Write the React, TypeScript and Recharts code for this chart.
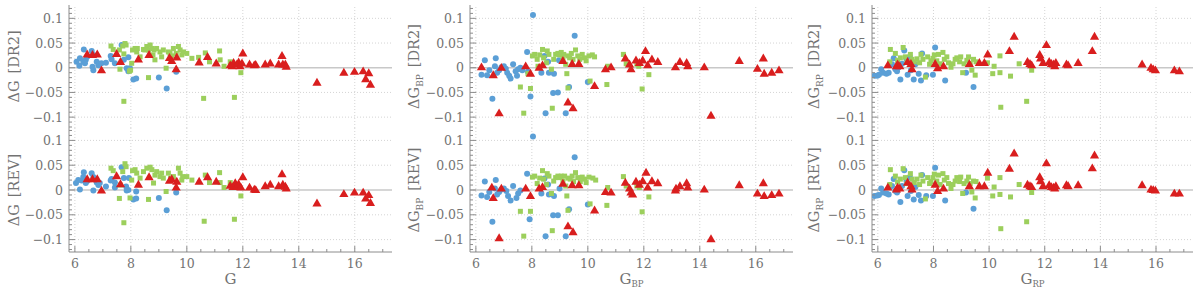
import React from "react";
import { ScatterChart, Scatter, XAxis, YAxis, ReferenceLine } from "recharts";

type Pt = [number, number];

// ---- G column ----
const gDr2Blue: Pt[] = [
  [6.06, 0.012], [6.18, 0.019], [6.16, 0.004], [6.3, 0.012], [6.32, 0.037], [6.39, 0.016], [6.36, 0.009],
  [6.44, 0.022], [6.6, 0.034], [6.66, 0.026], [6.63, 0.002], [6.66, -0.005], [6.78, 0.012], [6.84, 0.005],
  [6.95, 0.009], [7.11, 0.01], [7.28, 0.024], [7.31, 0.017], [7.43, 0.009], [7.67, 0.046], [7.75, 0.016],
  [7.85, -0.001], [7.91, -0.007], [7.97, -0.001], [8.09, -0.024], [8.19, -0.022], [7.91, 0.021],
  [9.0, -0.02], [9.28, -0.042], [9.62, -0.008],
];
const gDr2Green: Pt[] = [
  [7.29, 0.044], [7.37, 0.037], [7.59, 0.036], [7.71, 0.044], [7.79, 0.049], [7.83, 0.046], [7.75, 0.028],
  [7.61, -0.003], [7.75, -0.068], [7.99, -0.005], [8.03, 0.009], [8.06, 0.036], [8.15, 0.039], [8.21, 0.032],
  [8.23, 0.039], [8.33, 0.022], [8.45, 0.037], [8.5, 0.036], [8.57, 0.043], [8.63, 0.036], [8.69, 0.046],
  [8.75, 0.039], [8.79, 0.026], [8.83, 0.036], [8.86, 0.016], [8.92, 0.039], [9.04, 0.032], [9.1, 0.022],
  [9.16, 0.036], [9.26, -0.001], [9.34, 0.032], [9.4, 0.029], [9.46, 0.024], [9.52, 0.039], [9.62, 0.029],
  [9.7, 0.043], [9.76, 0.036], [9.82, 0.026], [9.88, 0.032], [10.0, 0.029], [10.18, 0.019], [10.42, 0.021],
  [10.6, -0.062], [10.66, 0.03], [10.81, 0.012], [11.17, 0.034], [11.19, 0.016], [11.33, 0.003],
  [11.55, 0.012], [11.7, -0.06], [11.93, -0.01], [8.63, -0.02], [7.95, -0.007],
];
const gDr2Red: Pt[] = [
  [6.44, 0.027], [6.63, 0.026], [6.8, 0.027], [6.95, -0.005], [7.49, 0.028], [7.63, 0.012], [8.27, 0.017],
  [8.65, 0.026], [9.38, 0.02], [9.46, 0.014], [9.62, -0.003], [9.64, 0.021], [10.44, 0.011], [10.74, 0.022],
  [11.05, 0.009], [11.55, 0.005], [11.62, 0.003], [11.67, 0.01], [11.79, 0.007], [11.85, 0.011],
  [11.9, 0.003], [11.97, 0.009], [12.0, 0.029], [12.24, 0.007], [12.41, 0.005], [12.46, 0.006],
  [12.8, 0.007], [12.98, 0.009], [13.28, 0.007], [13.4, 0.024], [13.43, 0.007], [13.52, 0.007],
  [13.55, 0.002], [14.65, -0.03], [15.61, -0.01], [15.99, -0.008], [16.3, -0.007], [16.39, -0.023],
  [16.5, -0.011], [16.56, -0.034],
];
const gRevBlue: Pt[] = [
  [6.04, 0.014], [6.12, 0.02], [6.18, 0.001], [6.24, 0.019], [6.3, 0.026], [6.32, 0.036], [6.39, 0.014],
  [6.44, 0.018], [6.6, 0.034], [6.66, 0.026], [6.66, -0.001], [6.78, 0.015], [6.84, 0.01], [6.89, 0.014],
  [7.11, 0.007], [7.28, 0.019], [7.31, 0.022], [7.43, 0.005], [7.43, 0.015], [7.67, 0.046], [7.75, 0.024],
  [7.83, 0.007], [7.85, -0.001], [7.91, 0.0], [7.93, 0.024], [8.09, -0.019], [8.19, -0.017], [8.19, -0.003],
  [9.0, -0.016], [9.28, -0.041], [9.62, -0.005],
];
const gRevGreen: Pt[] = [
  [7.29, 0.044], [7.37, 0.039], [7.59, -0.017], [7.71, 0.037], [7.79, 0.053], [7.83, 0.047], [7.75, -0.066],
  [7.63, 0.01], [7.97, -0.016], [8.03, 0.02], [8.06, 0.039], [8.15, 0.041], [8.21, 0.034], [8.33, 0.024],
  [8.45, 0.037], [8.57, 0.044], [8.63, -0.019], [8.69, 0.046], [8.75, 0.041], [8.81, 0.014], [8.86, 0.03],
  [8.92, 0.037], [9.1, 0.034], [9.16, 0.024], [9.26, -0.003], [9.34, 0.034], [9.42, 0.024], [9.52, 0.027],
  [9.7, 0.044], [9.76, 0.034], [9.85, 0.027], [10.0, 0.027], [10.18, 0.02], [10.62, -0.063], [10.66, 0.03],
  [10.81, 0.015], [11.17, 0.035], [11.19, 0.015], [11.33, 0.005], [11.55, 0.015], [11.7, -0.059],
  [11.93, -0.012], [9.04, 0.027], [9.82, 0.02],
];
const gRevRed: Pt[] = [
  [6.44, 0.022], [6.63, 0.022], [6.8, 0.022], [6.95, -0.001], [7.49, 0.028], [7.63, 0.012], [8.27, 0.011],
  [8.65, 0.026], [9.38, 0.019], [9.46, 0.022], [9.62, 0.005], [9.64, 0.017], [10.44, 0.017], [10.74, 0.026],
  [11.05, 0.017], [11.55, 0.009], [11.65, 0.006], [11.73, 0.014], [11.79, 0.007], [11.85, 0.012],
  [11.93, 0.005], [12.0, 0.026], [12.24, 0.005], [12.41, 0.001], [12.46, 0.0], [12.8, 0.008],
  [12.98, 0.011], [13.28, 0.008], [13.4, 0.032], [13.43, 0.011], [13.52, 0.007], [13.55, 0.003],
  [14.65, -0.027], [15.61, -0.008], [15.99, -0.005], [16.3, -0.005], [16.39, -0.017], [16.5, -0.01],
  [16.56, -0.026],
];

// ---- G_BP column ----
const bpDr2Blue: Pt[] = [
  [6.2, -0.014], [6.32, 0.015], [6.4, -0.015], [6.48, -0.005], [6.59, -0.063], [6.68, 0.003], [6.71, 0.019],
  [6.76, -0.01], [6.83, -0.005], [6.91, 0.001], [7.0, 0.003], [7.07, -0.002], [7.12, -0.01], [7.19, -0.016],
  [7.24, -0.022], [7.33, 0.007], [7.42, -0.007], [7.47, -0.016], [7.51, -0.003], [7.59, 0.0], [7.66, -0.005],
  [7.83, 0.032], [7.86, -0.008], [7.95, -0.058], [8.04, 0.107], [8.34, -0.01], [8.45, 0.024], [8.49, -0.092],
  [8.58, 0.012], [8.61, -0.01], [8.76, -0.051], [8.79, -0.012], [8.93, -0.05], [8.97, 0.015], [9.21, -0.092],
  [9.33, -0.039], [9.53, 0.065], [10.0, -0.029],
];
const bpDr2Green: Pt[] = [
  [7.59, -0.039], [7.71, -0.092], [7.86, -0.012], [7.95, -0.042], [8.02, 0.024], [8.1, 0.027], [8.19, 0.017],
  [8.22, 0.003], [8.28, 0.026], [8.38, 0.037], [8.42, 0.02], [8.52, 0.01], [8.55, 0.034], [8.61, 0.027],
  [8.7, -0.003], [8.73, -0.082], [8.78, 0.017], [8.85, 0.027], [8.93, 0.029], [8.99, 0.026], [9.05, 0.031],
  [9.11, 0.017], [9.14, 0.027], [9.21, 0.007], [9.25, -0.012], [9.29, -0.041], [9.29, 0.024], [9.35, 0.02],
  [9.41, 0.029], [9.47, 0.017], [9.56, 0.036], [9.64, 0.024], [9.71, 0.017], [9.8, 0.027], [9.88, 0.02],
  [9.94, 0.014], [10.04, 0.024], [10.08, -0.027], [10.16, 0.026], [10.24, 0.022], [10.68, -0.034],
  [10.71, 0.003], [11.27, 0.027], [11.37, 0.008], [11.75, 0.007], [11.82, 0.003], [11.94, -0.043],
  [12.18, -0.014],
];
const bpDr2Red: Pt[] = [
  [6.2, 0.001], [6.62, -0.015], [6.83, -0.092], [6.91, 0.0], [7.78, 0.003], [7.95, -0.012], [8.26, 0.0],
  [8.38, 0.005], [9.11, 0.014], [9.29, -0.07], [9.47, -0.082], [9.44, 0.008], [9.68, 0.008], [10.24, -0.037],
  [10.63, -0.003], [10.83, 0.001], [11.34, 0.019], [11.49, 0.007], [11.54, -0.003], [11.72, 0.015],
  [11.84, 0.01], [11.96, 0.015], [12.06, 0.034], [12.14, 0.005], [12.29, 0.017], [12.5, 0.012],
  [13.13, 0.001], [13.29, 0.012], [13.53, 0.01], [13.57, 0.003], [14.16, 0.001], [14.4, -0.097],
  [15.41, 0.014], [16.06, -0.002], [16.27, 0.019], [16.3, -0.012], [16.57, -0.01], [16.83, -0.005],
];
const bpRevBlue: Pt[] = [
  [6.2, -0.011], [6.32, 0.017], [6.4, -0.014], [6.48, -0.004], [6.59, -0.064], [6.68, 0.003], [6.71, 0.02],
  [6.76, -0.009], [6.83, -0.004], [6.91, 0.001], [7.0, 0.003], [7.09, -0.002], [7.15, -0.012], [7.24, -0.021],
  [7.33, 0.008], [7.45, -0.016], [7.51, -0.007], [7.59, -0.001], [7.83, 0.033], [7.92, -0.059], [8.04, 0.108],
  [8.34, -0.007], [8.45, 0.023], [8.49, -0.093], [8.58, 0.011], [8.61, -0.009], [8.76, -0.051], [8.79, -0.012],
  [8.93, -0.051], [8.99, 0.003], [9.21, -0.093], [9.33, -0.039], [9.53, 0.066], [10.0, -0.029],
];
const bpRevGreen: Pt[] = [
  [7.59, -0.043], [7.71, -0.093], [7.95, -0.043], [8.02, 0.026], [8.1, 0.028], [8.19, 0.013], [8.28, 0.024],
  [8.38, 0.039], [8.42, 0.022], [8.52, 0.011], [8.55, 0.033], [8.61, 0.028], [8.7, -0.007], [8.73, -0.082],
  [8.78, 0.018], [8.85, 0.025], [8.93, 0.028], [8.99, 0.025], [9.05, 0.028], [9.11, 0.018], [9.17, 0.028],
  [9.21, 0.008], [9.25, -0.012], [9.29, -0.041], [9.29, 0.024], [9.37, 0.022], [9.44, 0.028], [9.49, 0.017],
  [9.56, 0.035], [9.64, 0.025], [9.73, 0.017], [9.8, 0.026], [9.88, 0.022], [9.94, 0.015], [10.04, 0.026],
  [10.08, -0.028], [10.18, 0.024], [10.28, 0.02], [10.68, -0.031], [10.71, 0.005], [11.27, 0.027],
  [11.37, 0.008], [11.75, 0.008], [11.84, 0.005], [11.94, -0.044], [12.18, -0.014],
];
const bpRevRed: Pt[] = [
  [6.57, 0.005], [6.62, -0.016], [6.83, -0.097], [6.91, 0.003], [7.78, 0.003], [7.95, -0.012], [8.26, 0.003],
  [8.38, 0.006], [9.11, 0.013], [9.29, -0.073], [9.47, -0.085], [9.44, 0.01], [9.68, 0.01], [10.24, -0.041],
  [10.63, -0.004], [10.83, -0.005], [11.34, 0.015], [11.49, 0.003], [11.54, -0.005], [11.6, -0.009],
  [11.72, 0.017], [11.84, 0.011], [11.96, 0.018], [12.08, 0.035], [12.14, 0.005], [12.29, 0.018],
  [12.5, 0.014], [13.13, -0.001], [13.15, 0.003], [13.29, 0.008], [13.53, 0.014], [13.57, 0.005],
  [14.16, 0.001], [14.4, -0.099], [15.41, 0.01], [16.06, -0.007], [16.27, 0.014], [16.3, -0.012],
  [16.57, -0.01], [16.83, -0.007],
];

// ---- G_RP column ----
const rpDr2Blue: Pt[] = [
  [5.88, -0.016], [5.98, -0.016], [6.04, -0.014], [6.12, -0.003], [6.19, -0.01], [6.31, -0.012], [6.39, -0.01],
  [6.51, 0.007], [6.57, 0.019], [6.63, -0.003], [6.69, -0.007], [6.75, 0.001], [6.81, -0.024], [6.87, 0.008],
  [6.95, 0.035], [7.03, 0.017], [7.07, -0.014], [7.15, 0.022], [7.19, -0.005], [7.29, -0.024], [7.35, 0.007],
  [7.47, -0.012], [7.55, -0.026], [7.59, 0.029], [7.74, -0.015], [7.98, -0.014], [8.06, 0.041], [8.42, -0.026],
  [9.17, -0.01], [9.44, -0.039],
];
const rpDr2Green: Pt[] = [
  [6.45, 0.037], [6.43, 0.012], [6.63, 0.029], [6.71, 0.015], [6.81, 0.02], [6.91, 0.041], [6.99, 0.022],
  [7.05, 0.012], [7.17, 0.027], [7.23, 0.017], [7.31, 0.012], [7.41, 0.018], [7.5, 0.01], [7.55, 0.027],
  [7.62, 0.017], [7.71, -0.019], [7.79, 0.022], [7.86, 0.007], [7.91, 0.014], [7.98, 0.019], [8.03, 0.026],
  [8.12, 0.014], [8.18, 0.027], [8.24, 0.008], [8.34, 0.031], [8.39, 0.017], [8.48, 0.022], [8.54, 0.01],
  [8.63, 0.001], [8.7, 0.008], [8.78, 0.017], [8.84, 0.02], [8.94, 0.012], [8.98, 0.022], [9.05, -0.01],
  [9.1, 0.008], [9.2, 0.015], [9.26, 0.022], [9.32, 0.008], [9.38, -0.005], [9.44, 0.017], [9.5, -0.015],
  [9.53, 0.012], [9.94, 0.01], [10.13, -0.012], [10.18, 0.003], [10.39, 0.024], [10.39, -0.01],
  [10.42, -0.08], [10.77, -0.017], [11.08, 0.008], [11.35, -0.068], [11.53, -0.005],
];
const rpDr2Red: Pt[] = [
  [6.36, 0.005], [6.67, 0.003], [6.71, 0.007], [6.79, 0.003], [7.07, 0.012], [7.19, 0.008], [7.23, -0.003],
  [8.06, 0.008], [8.15, -0.001], [8.36, 0.003], [9.29, 0.008], [9.65, 0.01], [9.83, 0.01], [9.95, 0.027],
  [10.73, 0.034], [10.9, 0.063], [11.38, 0.012], [11.47, 0.008], [11.53, 0.005], [11.82, 0.026],
  [11.85, 0.019], [11.94, 0.01], [12.06, 0.046], [12.16, 0.012], [12.24, 0.008], [12.32, 0.007],
  [12.36, 0.003], [12.4, 0.01], [12.78, 0.007], [12.84, 0.005], [13.2, 0.01], [13.71, 0.034], [13.79, 0.063],
  [15.5, 0.007], [15.82, 0.0], [15.9, -0.003], [15.98, -0.005], [16.66, -0.005], [16.84, -0.007],
];
const rpRevBlue: Pt[] = [
  [5.88, -0.012], [5.98, -0.011], [6.04, -0.01], [6.12, 0.003], [6.19, -0.005], [6.31, -0.007], [6.39, -0.009],
  [6.51, 0.008], [6.57, 0.022], [6.63, -0.002], [6.69, -0.005], [6.81, -0.024], [6.87, 0.008], [6.95, 0.04],
  [7.03, 0.018], [7.07, -0.012], [7.15, 0.026], [7.19, -0.002], [7.29, -0.019], [7.35, 0.006], [7.47, -0.01],
  [7.55, -0.021], [7.59, 0.03], [7.74, -0.012], [7.98, -0.012], [8.06, 0.045], [8.42, -0.021], [9.17, -0.005],
  [9.44, -0.038],
];
const rpRevGreen: Pt[] = [
  [6.45, 0.041], [6.43, 0.011], [6.63, 0.028], [6.71, 0.016], [6.81, 0.022], [6.91, 0.043], [6.99, 0.025],
  [7.05, 0.013], [7.17, 0.033], [7.23, 0.022], [7.31, 0.015], [7.41, 0.022], [7.5, 0.011], [7.55, 0.03],
  [7.62, 0.018], [7.71, -0.018], [7.79, 0.025], [7.86, 0.013], [7.91, 0.017], [7.98, 0.025], [8.03, 0.032],
  [8.12, 0.018], [8.18, 0.03], [8.24, 0.011], [8.34, 0.033], [8.39, 0.02], [8.48, 0.025], [8.54, 0.013],
  [8.63, 0.003], [8.7, 0.011], [8.78, 0.018], [8.84, 0.025], [8.94, 0.017], [8.98, 0.026], [9.05, -0.007],
  [9.1, 0.013], [9.2, 0.018], [9.26, 0.026], [9.32, 0.013], [9.38, -0.004], [9.44, 0.018], [9.5, -0.016],
  [9.53, 0.017], [9.94, 0.024], [10.13, -0.012], [10.18, 0.006], [10.39, 0.025], [10.39, -0.009],
  [10.42, -0.078], [10.77, -0.014], [11.08, 0.011], [11.35, -0.064], [11.53, -0.005],
];
const rpRevRed: Pt[] = [
  [6.36, 0.005], [6.67, 0.001], [6.71, 0.005], [6.79, 0.003], [7.07, 0.015], [7.19, 0.008], [7.23, 0.001],
  [8.06, 0.011], [8.15, -0.002], [8.36, 0.003], [9.29, 0.008], [9.65, 0.008], [9.83, 0.008], [9.95, 0.035],
  [10.73, 0.043], [10.9, 0.074], [11.38, 0.011], [11.47, 0.008], [11.53, 0.006], [11.82, 0.026],
  [11.85, 0.018], [11.94, 0.008], [12.06, 0.054], [12.16, 0.01], [12.24, 0.006], [12.32, 0.005],
  [12.36, 0.003], [12.4, 0.008], [12.78, 0.01], [12.84, 0.008], [13.2, 0.01], [13.71, 0.044], [13.79, 0.07],
  [15.5, 0.01], [15.82, 0.001], [15.9, 0.0], [15.98, -0.001], [16.66, -0.007], [16.84, -0.007],
];

// axis ticks
const xTicks = [6, 6.5, 7, 7.5, 8, 8.5, 9, 9.5, 10, 10.5, 11, 11.5, 12, 12.5, 13, 13.5, 14, 14.5, 15, 15.5, 16, 16.5, 17];
const xGrid = [6, 8, 10, 12, 14, 16];
const yTicks = [
  -0.12, -0.11, -0.1, -0.09, -0.08, -0.07, -0.06, -0.05, -0.04, -0.03, -0.02, -0.01, 0,
  0.01, 0.02, 0.03, 0.04, 0.05, 0.06, 0.07, 0.08, 0.09, 0.1, 0.11, 0.12,
];
const yGrid = [-0.1, -0.05, 0.05, 0.1];

const BLUE = "#5b9fd6";
const GREEN = "#9ccf5c";
const RED = "#d91e1e";
const FRAME = "#8c8c8c";
const TEXT = "#737373";
const FONT = "'DejaVu Serif', serif";

const X_DOMAIN: [number, number] = [5.79, 17.33];

const toXY = (pts: Pt[]) => pts.map(([x, y]) => ({ x, y }));

const isMajorX = (v: number) => Math.abs(v / 2 - Math.round(v / 2)) < 1e-6;
const isMajorY = (v: number) => Math.abs(v * 20 - Math.round(v * 20)) < 1e-6;
const fmtY = (v: number) => (Math.abs(v) < 1e-9 ? "0" : (v < 0 ? "\u2212" : "") + String(Math.abs(v)));

const Circ = (p: any) => <circle cx={p.cx} cy={p.cy} r={3} fill={BLUE} />;
const Sq = (p: any) => <rect x={p.cx - 2.5} y={p.cy - 2.5} width={5} height={5} fill={GREEN} />;
const Tri = (p: any) => (
  <polygon
    points={`${p.cx},${p.cy - 4.8} ${p.cx + 4.6},${p.cy + 3.1} ${p.cx - 4.6},${p.cy + 3.1}`}
    fill={RED}
  />
);

const xTick = (side: "top" | "bottom", labels: boolean) => (p: any) => {
  const v = p.payload.value;
  const major = isMajorX(v);
  const len = major ? 6 : 3;
  const dir = side === "bottom" ? -1 : 1;
  return (
    <g>
      <line x1={p.x} x2={p.x} y1={p.y} y2={p.y + dir * len} stroke={FRAME} strokeWidth={1} />
      {labels && major && (
        <text x={p.x} y={p.y + 16} textAnchor="middle" fontSize={12.5} fill={TEXT} fontFamily={FONT}>
          {v}
        </text>
      )}
    </g>
  );
};

const yTick = (side: "left" | "right") => (p: any) => {
  const v = p.payload.value;
  const major = isMajorY(v);
  const len = major ? 6 : 3;
  const dir = side === "left" ? 1 : -1;
  return (
    <g>
      <line x1={p.x} x2={p.x + dir * len} y1={p.y} y2={p.y} stroke={FRAME} strokeWidth={1} />
      {side === "left" && major && (
        <text x={p.x - 6} y={p.y + 4.5} textAnchor="end" fontSize={12.5} fill={TEXT} fontFamily={FONT}>
          {fmtY(v)}
        </text>
      )}
    </g>
  );
};

const YTitle = (props: any) => {
  const vb = props.viewBox || { x: 0, y: 0, width: 0, height: 0 };
  const cx = vb.x + 19;
  const cy = vb.y + vb.height / 2;
  return (
    <text
      x={cx}
      y={cy}
      transform={`rotate(-90 ${cx} ${cy})`}
      textAnchor="middle"
      fontSize={14.5}
      fill={TEXT}
      fontFamily={FONT}
    >
      ΔG
      {props.sub ? (
        <tspan dy={4} fontSize={9}>
          {props.sub}
        </tspan>
      ) : null}
      <tspan dx={7} dy={props.sub ? -4 : 0}>
        [{props.tag}]
      </tspan>
    </text>
  );
};

const XTitle = (props: any) => {
  const vb = props.viewBox || { x: 0, y: 0, width: 0, height: 0 };
  const cx = vb.x + vb.width / 2;
  return (
    <text x={cx} y={vb.y + 32} textAnchor="middle" fontSize={15} fill={TEXT} fontFamily={FONT}>
      G
      {props.sub ? (
        <tspan dy={3} fontSize={8.5}>
          {props.sub}
        </tspan>
      ) : null}
    </text>
  );
};

interface PanelProps {
  bottom: boolean;
  tag: string;
  sub: string;
  leftW: number;
  rightM: number;
  yDomain: [number, number];
  blue: Pt[];
  green: Pt[];
  red: Pt[];
}

const Panel: React.FC<PanelProps> = ({ bottom, tag, sub, leftW, rightM, yDomain, blue, green, red }) => {
  const height = bottom ? 164 : 130;
  const margin = bottom
    ? { top: 2, right: rightM, bottom: 0, left: 0 }
    : { top: 5, right: rightM, bottom: 2, left: 0 };
  return (
    <ScatterChart width={400} height={height} margin={margin}>
      <XAxis
        xAxisId="b"
        type="number"
        dataKey="x"
        domain={X_DOMAIN}
        allowDataOverflow
        ticks={xTicks}
        interval={0}
        tickSize={0}
        tickMargin={0}
        tickLine={false}
        tick={xTick("bottom", bottom)}
        axisLine={{ stroke: FRAME }}
        height={bottom ? 38 : 0}
        label={bottom ? <XTitle sub={sub} /> : undefined}
      />
      <XAxis
        xAxisId="t"
        orientation="top"
        type="number"
        domain={X_DOMAIN}
        allowDataOverflow
        ticks={xTicks}
        interval={0}
        tickSize={0}
        tickMargin={0}
        tickLine={false}
        tick={xTick("top", false)}
        axisLine={{ stroke: FRAME }}
        height={0}
      />
      <YAxis
        yAxisId="l"
        type="number"
        dataKey="y"
        domain={yDomain}
        allowDataOverflow
        ticks={yTicks}
        interval={0}
        tickSize={0}
        tickMargin={0}
        tickLine={false}
        tick={yTick("left")}
        axisLine={{ stroke: FRAME }}
        width={leftW}
        label={<YTitle sub={sub} tag={tag} />}
      />
      <YAxis
        yAxisId="r"
        orientation="right"
        type="number"
        domain={yDomain}
        allowDataOverflow
        ticks={yTicks}
        interval={0}
        tickSize={0}
        tickMargin={0}
        tickLine={false}
        tick={yTick("right")}
        axisLine={{ stroke: FRAME }}
        width={0}
      />
      {xGrid.map((v) => (
        <ReferenceLine key={"gx" + v} xAxisId="b" yAxisId="l" x={v} stroke="#d4d4d4" strokeDasharray="1 2" />
      ))}
      {yGrid.map((v) => (
        <ReferenceLine key={"gy" + v} xAxisId="b" yAxisId="l" y={v} stroke="#d4d4d4" strokeDasharray="1 2" />
      ))}
      <ReferenceLine xAxisId="b" yAxisId="l" y={0} stroke="#c8c8c8" strokeWidth={1.4} />
      <Scatter xAxisId="b" yAxisId="l" data={toXY(blue)} shape={Circ} isAnimationActive={false} />
      <Scatter xAxisId="b" yAxisId="l" data={toXY(green)} shape={Sq} isAnimationActive={false} />
      <Scatter xAxisId="b" yAxisId="l" data={toXY(red)} shape={Tri} isAnimationActive={false} />
    </ScatterChart>
  );
};

const columns = [
  { sub: "", leftW: 69, rightM: 8, top: [gDr2Blue, gDr2Green, gDr2Red], bot: [gRevBlue, gRevGreen, gRevRed] },
  { sub: "BP", leftW: 70, rightM: 7, top: [bpDr2Blue, bpDr2Green, bpDr2Red], bot: [bpRevBlue, bpRevGreen, bpRevRed] },
  { sub: "RP", leftW: 72, rightM: 7, top: [rpDr2Blue, rpDr2Green, rpDr2Red], bot: [rpRevBlue, rpRevGreen, rpRevRed] },
];

export default function App() {
  return (
    <div style={{ position: "absolute", left: 0, top: 0, width: 1200, height: 290, background: "#fff" }}>
      {columns.map((c, i) => (
        <React.Fragment key={i}>
          <div style={{ position: "absolute", left: i * 400, top: 0 }}>
            <Panel
              bottom={false}
              tag="DR2"
              sub={c.sub}
              leftW={c.leftW}
              rightM={c.rightM}
              yDomain={[-0.122, 0.127]}
              blue={c.top[0]}
              green={c.top[1]}
              red={c.top[2]}
            />
          </div>
          <div style={{ position: "absolute", left: i * 400, top: 126 }}>
            <Panel
              bottom
              tag="REV"
              sub={c.sub}
              leftW={c.leftW}
              rightM={c.rightM}
              yDomain={[-0.125, 0.125]}
              blue={c.bot[0]}
              green={c.bot[1]}
              red={c.bot[2]}
            />
          </div>
        </React.Fragment>
      ))}
    </div>
  );
}
